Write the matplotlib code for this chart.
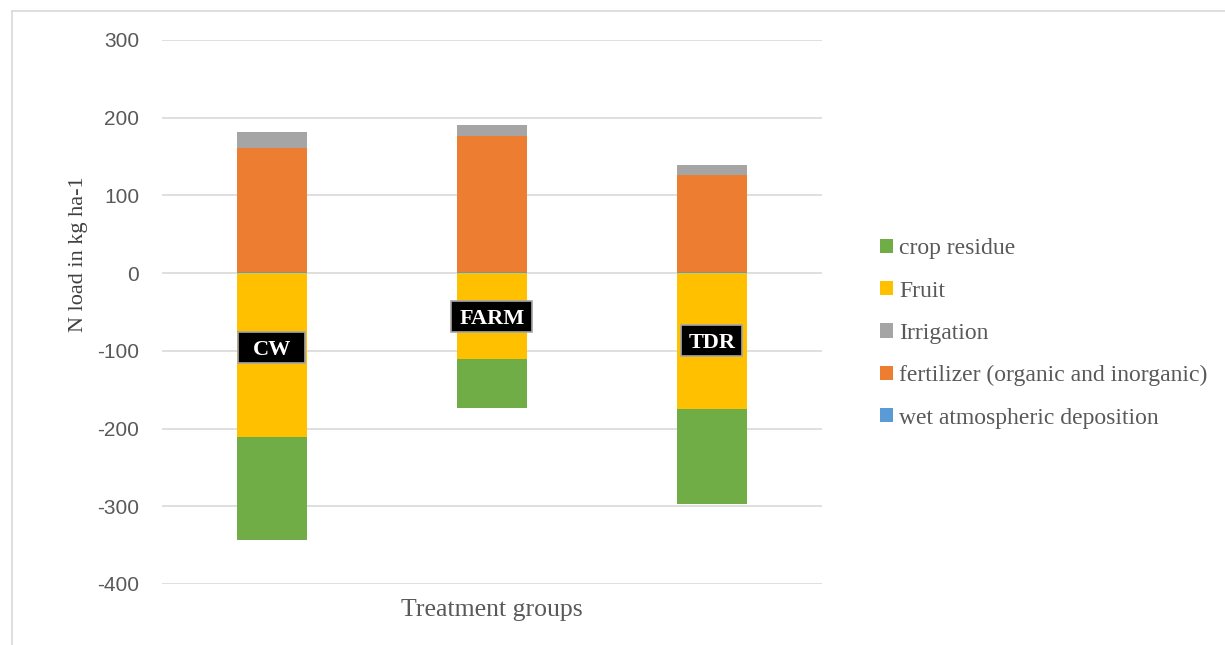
import matplotlib
matplotlib.use("Agg")
import matplotlib.pyplot as plt
from matplotlib.patches import Patch, Rectangle
from matplotlib.lines import Line2D

groups = ["CW", "FARM", "TDR"]
wet_deposition = [2, 2, 2]
fertilizer = [159, 175, 124]
irrigation = [20, 14, 13]
fruit = [-211, -111, -175]
crop_residue = [-133, -62, -122]
yticks = [300, 200, 100, 0, -100, -200, -300, -400]

# data-label placement (y centre in data units, box size in pixels)
label_y = [-96, -56, -87]
label_box_w = [67, 81, 61]
label_box_h = 31

c_crop = "#70ad47"
c_fruit = "#ffc000"
c_irr = "#a5a5a5"
c_fert = "#ed7d31"
c_wet = "#5b9bd5"

fig = plt.figure(figsize=(12.25, 6.45), dpi=100)
ax = fig.add_axes([0.1322, 0.0946, 0.5388, 0.8434])

x = list(range(len(groups)))
w = 0.318

# positive stack
ax.bar(x, wet_deposition, w, color=c_wet, zorder=3)
ax.bar(x, fertilizer, w, bottom=wet_deposition, color=c_fert, zorder=3)
pos_base = [a + b for a, b in zip(wet_deposition, fertilizer)]
ax.bar(x, irrigation, w, bottom=pos_base, color=c_irr, zorder=3)

# negative stack
ax.bar(x, fruit, w, color=c_fruit, zorder=3)
ax.bar(x, crop_residue, w, bottom=fruit, color=c_crop, zorder=3)

ax.set_xlim(-0.5, 2.5)
ax.set_ylim(-400, 300)

# pixel -> data conversion for the label boxes
ax_w_px = 0.5388 * 1225
ax_h_px = 0.8434 * 645
px_x = 3.0 / ax_w_px
px_y = 700.0 / ax_h_px

for xi, g, ly, bw in zip(x, groups, label_y, label_box_w):
    ax.add_patch(Rectangle((xi - bw * px_x / 2, ly - label_box_h * px_y / 2),
                           bw * px_x, label_box_h * px_y, facecolor="black",
                           edgecolor="#a6a6a6", linewidth=1.2, zorder=4))
    ax.text(xi, ly, g, ha="center", va="center_baseline", color="white",
            fontsize=16, fontweight="bold", family="Liberation Serif", zorder=5)

ax.set_yticks(yticks)
ax.set_yticklabels([str(v) for v in yticks], family="Liberation Sans",
                   fontsize=15, color="#595959")
ax.set_xticks([])
ax.tick_params(axis="y", length=0, pad=16.5)
ax.yaxis.grid(True, color="#d9d9d9", linewidth=1.2, zorder=0)
for s in ax.spines.values():
    s.set_visible(False)

ax.set_ylabel("N load in kg ha-1", family="Liberation Serif", fontsize=16,
              color="#404040")
ax.yaxis.set_label_coords(-0.112, 0.607)
ax.set_xlabel("Treatment groups", family="Liberation Serif", fontsize=18.5,
              color="#595959", labelpad=10.5)

handles = [Patch(facecolor=c_crop, label="crop residue"),
           Patch(facecolor=c_fruit, label="Fruit"),
           Patch(facecolor=c_irr, label="Irrigation"),
           Patch(facecolor=c_fert, label="fertilizer (organic and inorganic)"),
           Patch(facecolor=c_wet, label="wet atmospheric deposition")]
fig.legend(handles=handles, loc="center left", bbox_to_anchor=(0.718, 0.483),
           frameon=False, prop={"family": "Liberation Serif", "size": 17},
           labelcolor="#595959", handlelength=0.55, handleheight=0.55,
           handletextpad=0.28, labelspacing=0.9, borderpad=0, borderaxespad=0)

# outer frame (left and top edges)
fig.add_artist(Line2D([0.0095, 0.0095], [0.0, 0.983], transform=fig.transFigure,
                      color="#d9d9d9", linewidth=1.2))
fig.add_artist(Line2D([0.0095, 1.0], [0.983, 0.983], transform=fig.transFigure,
                      color="#d9d9d9", linewidth=1.2))

fig.savefig("out.png", dpi=100)
